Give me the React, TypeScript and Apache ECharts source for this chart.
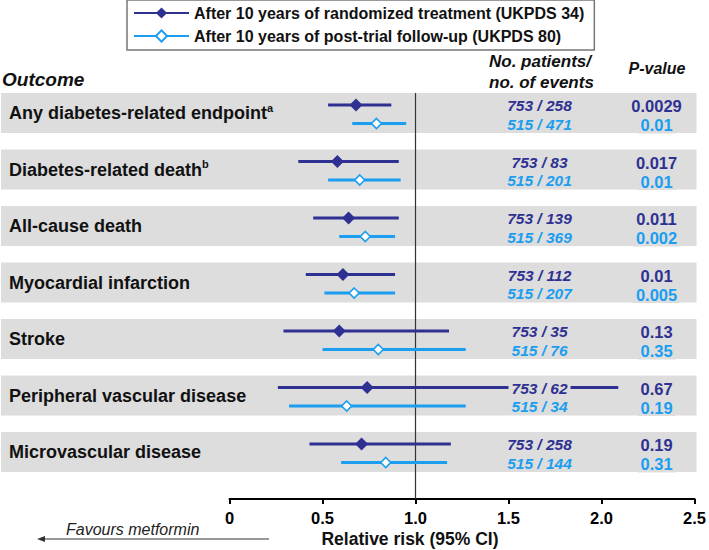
import React, { useEffect, useRef } from 'react';
import * as echarts from 'echarts';

const outcomes = [
  'Any diabetes-related endpoint',
  'Diabetes-related death',
  'All-cause death',
  'Myocardial infarction',
  'Stroke',
  'Peripheral vascular disease',
  'Microvascular disease',
];
const superscripts = ['a', 'b', '', '', '', '', ''];

// UKPDS 34: after 10 years of randomized treatment
const rr34 = [0.68, 0.58, 0.64, 0.61, 0.59, 0.74, 0.71];
const lo34 = [0.53, 0.37, 0.45, 0.41, 0.29, 0.26, 0.43];
const hi34 = [0.87, 0.91, 0.91, 0.89, 1.18, 2.09, 1.19];
// UKPDS 80: after 10 years of post-trial follow-up
const rr80 = [0.79, 0.70, 0.73, 0.67, 0.80, 0.63, 0.84];
const lo80 = [0.66, 0.53, 0.59, 0.51, 0.50, 0.32, 0.60];
const hi80 = [0.95, 0.92, 0.89, 0.89, 1.27, 1.27, 1.17];

const events34 = ['753 / 258', '753 / 83', '753 / 139', '753 / 112', '753 / 35', '753 / 62', '753 / 258'];
const events80 = ['515 / 471', '515 / 201', '515 / 369', '515 / 207', '515 / 76', '515 / 34', '515 / 144'];
const p34 = ['0.0029', '0.017', '0.011', '0.01', '0.13', '0.67', '0.19'];
const p80 = ['0.01', '0.01', '0.002', '0.005', '0.35', '0.19', '0.31'];

const legendNames = [
  'After 10 years of randomized treatment (UKPDS 34)',
  'After 10 years of post-trial follow-up (UKPDS 80)',
];
const xTicks = [0, 0.5, 1, 1.5, 2, 2.5];

const FONT = '"Liberation Sans", Arial, Helvetica, sans-serif';
const DARK = '#2e3192';
const LIGHT = '#1b9df0';
const BAND = '#dddddd';
const AXIS_OFFSET = 18.75;

export default function App() {
  const ref = useRef<HTMLDivElement>(null);

  useEffect(() => {
    const chart = echarts.init(ref.current as HTMLDivElement, null, { renderer: 'svg' });

    const bandItem = (params: any, api: any) => {
      const i = params.dataIndex;
      const cs = params.coordSys;
      const yc = api.coord([0, i])[1];
      return {
        type: 'rect',
        shape: { x: 1, y: yc - 20, width: cs.x + cs.width + 1, height: 40 },
        style: { fill: BAND },
      };
    };

    const refItem = (params: any, api: any) => {
      const cs = params.coordSys;
      const x = api.coord([api.value(0), 0])[0];
      const yTop = api.coord([0, 0])[1] - 20;
      return {
        type: 'line',
        shape: { x1: x, y1: yTop, x2: x, y2: cs.y + cs.height + AXIS_OFFSET },
        style: { stroke: '#333', lineWidth: 1.2 },
      };
    };

    const diamond = (cx: number, cy: number, h: number) => [
      [cx, cy - h],
      [cx + h, cy],
      [cx, cy + h],
      [cx - h, cy],
    ];

    const rowItem = (params: any, api: any) => {
      const i = params.dataIndex;
      const cs = params.coordSys;
      const yc = api.coord([0, i])[1];
      const y1 = yc - 8;
      const y2 = yc + 10.5;
      const px = (v: number) => api.coord([v, i])[0];
      const right = cs.x + cs.width;
      const evX = right - 155;
      const pX = right - 38;
      const txt = (text: string, x: number, y: number, color: string, size: number, italic: boolean) => ({
        type: 'text',
        style: {
          text,
          x,
          y,
          align: 'center',
          verticalAlign: 'middle',
          fill: color,
          fontSize: size,
          fontWeight: 'bold',
          fontStyle: italic ? 'italic' : 'normal',
          fontFamily: FONT,
          backgroundColor: BAND,
          padding: [0, 3],
        },
      });
      return {
        type: 'group',
        children: [
          {
            type: 'line',
            shape: { x1: px(api.value(0)), y1, x2: px(api.value(2)), y2: y1 },
            style: { stroke: DARK, lineWidth: 3 },
          },
          {
            type: 'line',
            shape: { x1: px(api.value(3)), y1: y2, x2: px(api.value(5)), y2 },
            style: { stroke: LIGHT, lineWidth: 3 },
          },
          {
            type: 'polygon',
            shape: { points: diamond(px(api.value(1)), y1, 6.5) },
            style: { fill: DARK },
          },
          {
            type: 'polygon',
            shape: { points: diamond(px(api.value(4)), y2, 5) },
            style: { fill: '#fff', stroke: LIGHT, lineWidth: 1.6 },
          },
          txt(events34[i], evX, yc - 7.5, DARK, 15.5, true),
          txt(events80[i], evX, yc + 11, LIGHT, 15.5, true),
          txt(p34[i], pX, yc - 7, DARK, 16.5, false),
          txt(p80[i], pX, yc + 12, LIGHT, 16.5, false),
        ],
      };
    };

    const option: any = {
      animation: false,
      backgroundColor: '#fff',
      textStyle: { fontFamily: FONT },
      legend: {
        data: legendNames,
        orient: 'vertical',
        left: 127,
        top: 0,
        itemWidth: 55,
        itemHeight: 14,
        itemGap: 7,
        padding: [5, 10, 6, 6],
        borderColor: '#777',
        borderWidth: 1.5,
        selectedMode: false,
        textStyle: { fontSize: 16, fontWeight: 'bold', color: '#111', fontFamily: FONT },
      },
      grid: { left: 229.5, right: 14, top: 84.75, bottom: 69.75, containLabel: false },
      xAxis: {
        type: 'value',
        min: xTicks[0],
        max: xTicks[xTicks.length - 1],
        interval: 0.5,
        offset: AXIS_OFFSET,
        axisLine: { show: true, lineStyle: { color: '#000', width: 2 } },
        axisTick: { show: true, length: 5, lineStyle: { color: '#000', width: 2 } },
        splitLine: { show: false },
        axisLabel: {
          formatter: (v: number) => (v === 0 ? '0' : v.toFixed(1)),
          fontSize: 16.5,
          fontWeight: 'bold',
          color: '#000',
          margin: 10,
          fontFamily: FONT,
        },
      },
      yAxis: {
        type: 'category',
        data: outcomes,
        inverse: true,
        z: 10,
        axisLine: { show: false },
        axisTick: { show: false },
        splitLine: { show: false },
        axisLabel: {
          interval: 0,
          align: 'left',
          margin: 220.5,
          formatter: (v: string, idx: number) =>
            superscripts[idx] ? `{b|${v}}{s|${superscripts[idx]}}` : `{b|${v}}`,
          rich: {
            b: { fontSize: 18, fontWeight: 'bold', color: '#111', fontFamily: FONT, lineHeight: 22 },
            s: { fontSize: 11, fontWeight: 'bold', color: '#111', fontFamily: FONT, lineHeight: 11, verticalAlign: 'top' },
          },
        },
      },
      series: [
        {
          name: legendNames[0],
          type: 'line',
          data: [],
          symbol: 'diamond',
          symbolSize: 13,
          itemStyle: { color: DARK },
          lineStyle: { color: DARK, width: 3 },
        },
        {
          name: legendNames[1],
          type: 'line',
          data: [],
          symbol: 'emptyDiamond',
          symbolSize: 10,
          itemStyle: { color: LIGHT },
          lineStyle: { color: LIGHT, width: 3 },
        },
        {
          type: 'custom',
          z: 1,
          renderItem: bandItem,
          encode: { x: 0, y: 1 },
          data: outcomes.map((_, i) => [0, i]),
          silent: true,
        },
        {
          type: 'custom',
          z: 2,
          renderItem: refItem,
          encode: { x: 0, y: 1 },
          data: [[1, 0]],
          silent: true,
        },
        {
          type: 'custom',
          z: 3,
          renderItem: rowItem,
          encode: { x: [0, 1, 2, 3, 4, 5], y: 6 },
          data: outcomes.map((_, i) => [lo34[i], rr34[i], hi34[i], lo80[i], rr80[i], hi80[i], i]),
          silent: true,
        },
      ],
      graphic: [
        {
          type: 'text',
          x: 2,
          y: 79,
          style: { text: 'Outcome', fontSize: 19, fontWeight: 'bold', fontStyle: 'italic', fill: '#111', fontFamily: FONT, verticalAlign: 'middle' },
        },
        {
          type: 'text',
          x: 489,
          y: 61,
          style: { text: 'No. patients/', fontSize: 17, fontWeight: 'bold', fontStyle: 'italic', fill: '#111', fontFamily: FONT, verticalAlign: 'middle' },
        },
        {
          type: 'text',
          x: 489,
          y: 82,
          style: { text: 'no. of events', fontSize: 17, fontWeight: 'bold', fontStyle: 'italic', fill: '#111', fontFamily: FONT, verticalAlign: 'middle' },
        },
        {
          type: 'text',
          x: 657,
          y: 68,
          style: { text: 'P-value', fontSize: 16, fontWeight: 'bold', fontStyle: 'italic', fill: '#111', fontFamily: FONT, align: 'center', verticalAlign: 'middle' },
        },
        {
          type: 'text',
          x: 410,
          y: 539,
          style: { text: 'Relative risk (95% CI)', fontSize: 17.5, fontWeight: 'bold', fill: '#111', fontFamily: FONT, align: 'center', verticalAlign: 'middle' },
        },
        {
          type: 'text',
          x: 66,
          y: 529,
          style: { text: 'Favours metformin', fontSize: 16, fontStyle: 'italic', fill: '#222', fontFamily: FONT, verticalAlign: 'middle' },
        },
        {
          type: 'line',
          shape: { x1: 42, y1: 539, x2: 269, y2: 539 },
          style: { stroke: '#333', lineWidth: 1 },
        },
        {
          type: 'polygon',
          shape: { points: [[37, 539], [45, 536], [45, 542]] },
          style: { fill: '#333' },
        },
      ],
    };

    chart.setOption(option);
    return () => chart.dispose();
  }, []);

  return (
    <div
      ref={ref}
      style={{ position: 'fixed', left: 0, top: 0, width: 709, height: 550, background: '#fff' }}
    />
  );
}
